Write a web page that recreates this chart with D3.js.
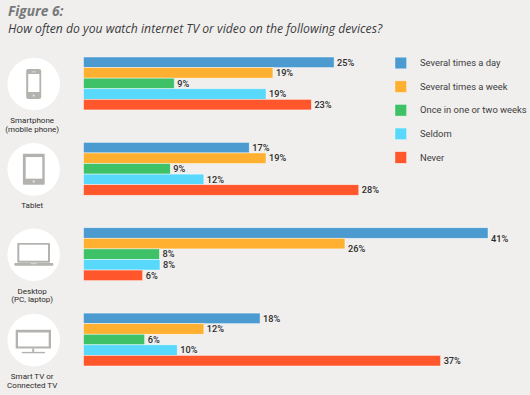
<!DOCTYPE html>
<html>
<head>
<meta charset="utf-8">
<script src="https://cdn.jsdelivr.net/npm/d3@7"></script>
<style>
  html,body{margin:0;padding:0;background:#f0efed;}
  svg{display:block;}
  text{font-family:Roboto,sans-serif;}
  .head{font-family:"Open Sans",sans-serif;}
</style>
</head>
<body>
<div id="chart"></div>
<script>
const devices=["phone","tablet","desktop","tv"];
const deviceLabels=[["Smartphone","(mobile phone)"],["Tablet"],["Desktop","(PC, laptop)"],["Smart TV or","Connected TV"]];
const frequencies=["Several times a day","Several times a week","Once in one or two weeks","Seldom","Never"];
const colors=["#4b9bd0","#ffb030","#3fc167","#58d8fa","#ff562c"];

// bar lengths, printed labels kept apart since they're rounded
const phoneValues=[25.4,19.2,9.2,18.5,23.1];
const tabletValues=[16.8,18.5,8.8,12.2,27.9];
const desktopValues=[41,26.5,7.7,7.75,6];
const tvValues=[17.9,12.2,6.2,9.5,36.2];
const values=[phoneValues,tabletValues,desktopValues,tvValues];

const phoneLabels=[25,19,9,19,23];
const tabletLabels=[17,19,9,12,28];
const desktopLabels=[41,26,8,8,6];
const tvLabels=[18,12,6,10,37];
const labels=[phoneLabels,tabletLabels,desktopLabels,tvLabels];

const opt={width:530,height:395,left:83.5,right:488,top:57,bottom:366,circleX:33.7,circleR:26.3}

const xScale=d3.scaleLinear().domain([0,41]).range([opt.left,opt.right]);
const groupScale=d3.scaleBand().domain(devices).range([opt.top,opt.bottom]).paddingInner(0.38);
const barScale=d3.scaleBand().domain(frequencies).range([0,groupScale.bandwidth()]);
const colorScale=d3.scaleOrdinal().domain(frequencies).range(colors);
const legendScale=d3.scalePoint().domain(frequencies).range([63,157.5]);

const svg=d3.select("#chart")
  .append("svg")
  .attr("width",opt.width)
  .attr("height",opt.height)

svg.append("text")
  .attr("class","head")
  .attr("x",8)
  .attr("y",16)
  .attr("fill","#77787a")
  .attr("font-size",13.7)
  .attr("font-weight",700)
  .attr("font-style","italic")
  .text("Figure 6:")

svg.append("text")
  .attr("class","head")
  .attr("x",8)
  .attr("y",33)
  .attr("fill","#3c3c3e")
  .attr("font-size",12.2)
  .attr("font-style","italic")
  .text("How often do you watch internet TV or video on the following devices?")

const groups=svg.selectAll(".group")
  .data(devices)
  .enter()
  .append("g")
  .attr("class","group")
  .attr("transform",(d)=>{
    return "translate(0,"+groupScale(d)+")";
  })

groups.each(function(d,i){
  const g=d3.select(this);
  const rows=frequencies.map((f,j)=>{
    return {f:f,value:values[i][j],label:labels[i][j],nudge:(d==="desktop"&&j<2)?5.5:0};
  });

  g.selectAll("rect")
    .data(rows)
    .enter()
    .append("rect")
    .attr("x",xScale(0))
    .attr("y",(r)=>{
      return barScale(r.f);
    })
    .attr("width",(r)=>{
      return xScale(r.value)-xScale(0);
    })
    .attr("height",barScale.bandwidth())
    .attr("fill",(r)=>{
      return colorScale(r.f);
    })
    .attr("stroke","#fff")
    .attr("stroke-opacity",0.65)
    .attr("stroke-width",0.7)

  g.selectAll(".val")
    .data(rows)
    .enter()
    .append("text")
    .attr("class","val")
    .attr("x",(r)=>{
      return xScale(r.value)+3;
    })
    .attr("y",(r)=>{
      return barScale(r.f)+barScale.bandwidth()/2+3.2+r.nudge;
    })
    .attr("font-size",9.2)
    .attr("font-weight",500)
    .attr("fill","#2b2b2b")
    .text((r)=>{
      return r.label+"%";
    })

  // circle + icon sit 27px below the group's top edge
  const icon=g.append("g").attr("transform","translate("+opt.circleX+",27)");
  icon.append("circle").attr("r",opt.circleR).attr("fill","#fff");
  drawIcon(icon,d);

  g.selectAll(".dev")
    .data(deviceLabels[i])
    .enter()
    .append("text")
    .attr("class","dev")
    .attr("x",opt.circleX-1.5)
    .attr("y",(l,k)=>{
      return 66+k*8.6;
    })
    .attr("text-anchor","middle")
    .attr("font-size",8)
    .attr("fill","#2b2b2b")
    .text((l)=>{
      return l;
    })
})

function box(g,x,y,w,h,fill,rx){
  g.append("rect").attr("x",x).attr("y",y).attr("width",w).attr("height",h).attr("fill",fill).attr("rx",rx||0);
}

function drawIcon(g,d){
  const grey="#b4b2ae";
  if(d==="phone"){
    box(g,-7.5,-15,15,30,grey,2);
    box(g,-5.5,-10,11.2,18,"#fff");
    box(g,-2,-12.5,4,0.8,"#e4e3e1");
    box(g,-1,10.5,2,2,"#e4e3e1");
  }else if(d==="tablet"){
    box(g,-10.8,-15.7,21.8,31,grey,1);
    box(g,-8,-12.3,16.6,21.6,"#fff");
    box(g,-1,11.2,2,2,"#e4e3e1");
  }else if(d==="desktop"){
    box(g,-16.4,-11.6,32.7,19.6,grey,1);
    box(g,-14.4,-10,28.7,16,"#fff");
    box(g,-19.4,8.4,39,2.6,grey,1);
    box(g,-3,8.6,6,0.8,"#e4e3e1");
  }else{
    box(g,-18,-10.3,35.3,18.7,grey);
    box(g,-15.7,-7.6,30.7,14,"#fff");
    box(g,-1.5,8.4,2,3.4,grey);
    box(g,-12,11.8,23.3,1.4,grey);
  }
}

const legend=svg.selectAll(".legend")
  .data(frequencies)
  .enter()
  .append("g")
  .attr("class","legend")
  .attr("transform",(d)=>{
    return "translate(395,"+legendScale(d)+")";
  })

legend.append("rect")
  .attr("y",-5.8)
  .attr("width",11.6)
  .attr("height",11.6)
  .attr("fill",(d)=>{
    return colorScale(d);
  })
  .attr("stroke","#fff")
  .attr("stroke-opacity",0.6)
  .attr("stroke-width",0.6)

legend.append("text")
  .attr("x",25)
  .attr("y",3.2)
  .attr("font-size",9.4)
  .attr("fill","#3c3c3e")
  .text((d)=>{
    return d;
  })
</script>
</body>
</html>
